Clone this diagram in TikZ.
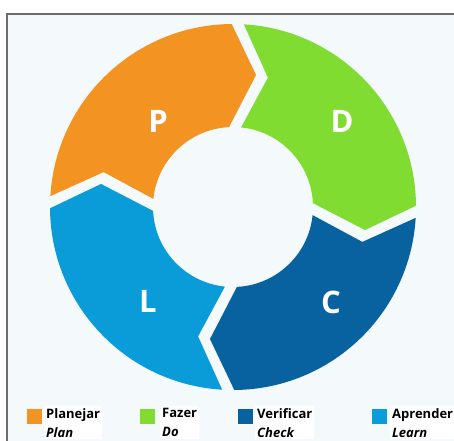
\documentclass[tikz,border=0pt]{standalone}
\usepackage{fontspec}
\setmainfont{Open Sans}
\usepackage{tikz}

\definecolor{planorange}{HTML}{F39422}
\definecolor{dogreen}{HTML}{80DC30}
\definecolor{checkblue}{HTML}{0862A0}
\definecolor{learnblue}{HTML}{0A9BD9}
\definecolor{backblue}{HTML}{F4F9FC}

\begin{document}
\begin{tikzpicture}[x=1pt,y=1pt,
        letter/.style={text=white,font=\fontsize{31}{31}\selectfont\bfseries},
        legbox/.style={fill=#1,minimum size=15pt,inner sep=0pt,anchor=south west},
        legtext/.style={fill=white,align=left,anchor=north west,inner sep=2pt,
          font=\fontsize{13}{19}\selectfont}]
        \clip (0,0) rectangle (454,440);
        \fill[white] (0,0) rectangle (454,440);
        \draw[line width=2pt,gray!85!black,fill=backblue] (7,426) rectangle (470,-20);
        % ring of four arrows, one per step
        \begin{scope}[shift={(233,233)}]
          \foreach \a/\c in {178.5/planorange,88.5/dogreen,-1.5/checkblue,-91.5/learnblue}
            \fill[\c] ({\a-1.9}:183) arc[start angle=\a-1.9,end angle=\a-88.1,radius=183]
              -- ({\a-98.4}:134) -- ({\a-85.7}:80)
              arc[start angle=\a-85.7,end angle=\a-4.3,radius=80]
              -- ({\a-13.6}:134) -- cycle;
        \end{scope}
        \node[letter] (p) at (158,319) {P};
        \node[letter] (d) at (342,319) {D};
        \node[letter] (c) at (331,138) {C};
        \node[letter] (l) at (148,139) {L};
        % legend
        \node[legbox=planorange] (planbox) at (27,16) {};
        \node[legbox=dogreen] (dobox) at (140,16) {};
        \node[legbox=checkblue] (checkbox) at (238,16) {};
        \node[legbox=learnblue] (learnbox) at (372,16) {};
        \node[legtext] (plantext) at (44,34) {\textbf{Planejar}\\\textbf{\textit{Plan}}};
        \node[legtext] (dotext) at (160,34) {\textbf{Fazer}\\\textbf{\textit{Do}}};
        \node[legtext] (checktext) at (255,34) {\textbf{Verificar}\\\textbf{\textit{Check}}};
        \node[legtext] (learntext) at (390,34) {\textbf{Aprender}\\\textbf{\textit{Learn}}};
      \end{tikzpicture}
\end{document}
